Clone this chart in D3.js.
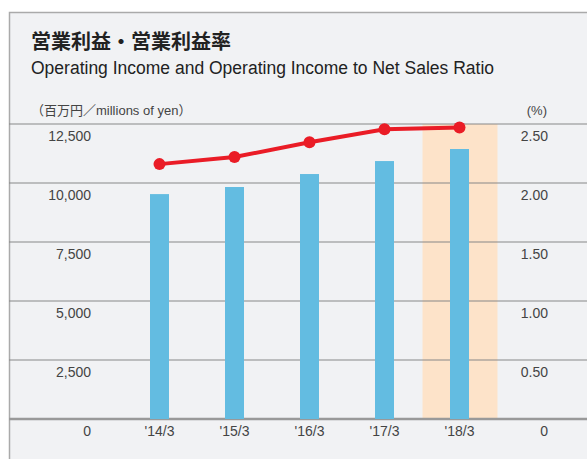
<!DOCTYPE html>
<meta charset="utf-8">
<style>
  body { margin: 0; background: #fff; }
  svg text { font-family: "Liberation Sans Narrow", "Liberation Sans", Arial, sans-serif; fill: #333; }
  .jp { font-family: "Noto Sans CJK JP", sans-serif; }
</style>
<body>
<script src="https://d3js.org/d3.v7.min.js"></script>
<script>
  var years = ["'14/3", "'15/3", "'16/3", "'17/3", "'18/3"];
  var income = [9530, 9830, 10380, 10930, 11440];
  var ratio = [2.16, 2.22, 2.345, 2.455, 2.47];
  var leftTicks = [0, 2500, 5000, 7500, 10000, 12500];
  var rightTicks = [0, 0.5, 1.0, 1.5, 2.0, 2.5];
  var highlightYear = "'18/3";

  var W = 587, H = 459;
  var svg = d3.select("body").append("svg")
    .attr("width", W).attr("height", H);

  // panel
  svg.append("rect").attr("x", 9).attr("y", 12).attr("width", W - 9).attr("height", H - 12)
    .attr("fill", "#f1f2f4");
  svg.append("path").attr("d", "M9.5," + H + "V12.5H" + W)
    .attr("fill", "none").attr("stroke", "#aaa").attr("stroke-width", 1.5);

  svg.append("text").attr("class", "jp").attr("x", 31).attr("y", 49)
    .style("font-size", "20px").style("font-weight", "bold").style("fill", "#222")
    .text("営業利益・営業利益率");
  svg.append("text").attr("x", 31).attr("y", 74)
    .attr("textLength", 463).attr("lengthAdjust", "spacingAndGlyphs")
    .style("font-size", "18px").style("fill", "#222")
    .text("Operating Income and Operating Income to Net Sales Ratio");

  var unit = svg.append("text").attr("x", 31).attr("y", 115).style("font-size", "13px").style("fill", "#444");
  unit.append("tspan").attr("class", "jp").text("（百万円／");
  unit.append("tspan").text("millions of yen");
  unit.append("tspan").attr("class", "jp").text("）");
  svg.append("text").attr("x", 547).attr("y", 115).attr("text-anchor", "end")
    .style("font-size", "13px").style("fill", "#444").text("(%)");

  var x = d3.scalePoint().domain(years).range([159.5, 459.5]);
  var yL = d3.scaleLinear().domain([0, 12500]).range([419, 124]);
  var yR = d3.scaleLinear().domain([0, 2.5]).range([419, 124]);
  var step = x.step();

  // highlight band
  svg.append("rect")
    .attr("x", x(highlightYear) - step / 2 + 0.5).attr("width", step)
    .attr("y", yL(12500)).attr("height", yL(0) - yL(12500))
    .attr("fill", "#fde3c9");

  // gridlines
  svg.selectAll(".grid").data(leftTicks).enter().append("line")
    .attr("x1", 9).attr("x2", W)
    .attr("y1", function(d) { return yL(d); }).attr("y2", function(d) { return yL(d); })
    .attr("stroke", function(d) { return d === 0 ? "#999" : "#888"; })
    .attr("stroke-width", function(d) { return d === 0 ? 2.5 : 1.2; });

  // bars
  svg.selectAll(".bar").data(income).enter().append("rect")
    .attr("x", function(d, i) { return x(years[i]) - 9.5; })
    .attr("width", 19)
    .attr("y", function(d) { return yL(d); })
    .attr("height", function(d) { return yL(0) - yL(d); })
    .attr("fill", "#63bce1");

  // left / right tick labels (below each gridline)
  svg.selectAll(".lt").data(leftTicks).enter().append("text")
    .attr("x", 91).attr("y", function(d) { return yL(d) + 17; })
    .attr("text-anchor", "end").style("font-size", "14px").style("fill", "#444")
    .text(function(d) { return d3.format(",")(d); });
  svg.selectAll(".rt").data(rightTicks).enter().append("text")
    .attr("x", 548).attr("y", function(d) { return yR(d) + 17; })
    .attr("text-anchor", "end").style("font-size", "14px").style("fill", "#444")
    .text(function(d) { return d === 0 ? "0" : d3.format(".2f")(d); });

  // x labels
  svg.selectAll(".xl").data(years).enter().append("text")
    .attr("x", function(d) { return x(d); }).attr("y", 436)
    .attr("text-anchor", "middle").style("font-size", "14px").style("fill", "#444")
    .text(function(d) { return d; });

  // ratio line
  var line = d3.line()
    .x(function(d, i) { return x(years[i]); })
    .y(function(d) { return yR(d); });
  svg.append("path").datum(ratio).attr("d", line)
    .attr("fill", "none").attr("stroke", "#ea1c26").attr("stroke-width", 4);
  svg.selectAll(".dot").data(ratio).enter().append("circle")
    .attr("cx", function(d, i) { return x(years[i]); })
    .attr("cy", function(d) { return yR(d); })
    .attr("r", 6).attr("fill", "#ea1c26");
</script>
</body>
